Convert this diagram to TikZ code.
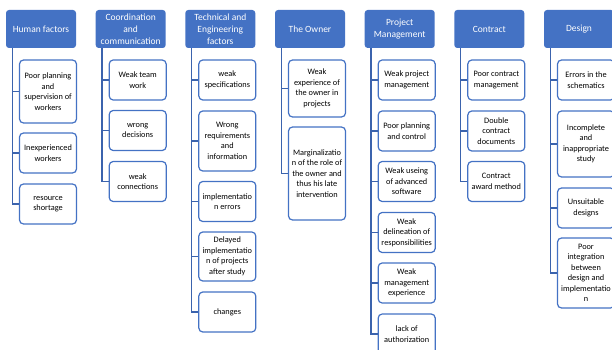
\documentclass[tikz,border=0pt]{standalone}
\usepackage{fontspec}
\setmainfont{Carlito}
\usepackage{xcolor}
\usetikzlibrary{positioning}
\definecolor{office}{HTML}{4472C4}
\definecolor{trunk}{HTML}{3B63AD}

\begin{document}
\begin{tikzpicture}[x=1pt, y=-1pt,
    hd/.style={rectangle, fill=office, rounded corners=3pt, minimum width=70pt, minimum height=38pt, inner sep=1pt, text=white, font=\fontsize{9.5}{12}\selectfont, align=center},
    it/.style={rectangle, draw=office, line width=1.2pt, fill=white, rounded corners=4pt, minimum width=57pt, minimum height=40pt, inner sep=1pt, font=\fontsize{8.3}{10.5}\selectfont, align=center},
    ln/.style={draw=trunk, line width=1.2pt}
]
    \useasboundingbox (0,0) rectangle (612,350);

    % Headers
    \node[hd] (human) at (41,29) {Human factors};
    \node[hd] (coord) at (130.7,29) {Coordination\\and\\communication};
    \node[hd] (tech) at (220.3,29) {Technical and\\Engineering\\factors};
    \node[hd] (owner) at (310,29) {The Owner};
    \node[hd] (pm) at (399.7,29) {Project\\Management};
    \node[hd] (contract) at (489.3,29) {Contract};
    \node[hd] (design) at (579,29) {Design};

    % Human factors
    \node[it, minimum height=63pt] (human1) at (48,91.5) {Poor planning\\and\\supervision of\\workers};
    \node[it] (human2) at (48,153) {Inexperienced\\workers};
    \node[it] (human3) at (48,204) {resource\\shortage};

    % Coordination and communication
    \node[it] (coord1) at (137.7,80) {Weak team\\work};
    \node[it] (coord2) at (137.7,130.5) {wrong\\decisions};
    \node[it] (coord3) at (137.7,181.5) {weak\\connections};

    % Technical and Engineering factors
    \node[it] (tech1) at (227.3,80) {weak\\specifications};
    \node[it, minimum height=60pt] (tech2) at (227.3,141) {Wrong\\requirements\\and\\information};
    \node[it] (tech3) at (227.3,201.5) {implementatio\\n errors};
    \node[it, minimum height=49pt] (tech4) at (227.3,256.5) {Delayed\\implementatio\\n of projects\\after study};
    \node[it] (tech5) at (227.3,312) {changes};

    % The Owner
    \node[it, minimum height=57pt] (owner1) at (317,88.5) {Weak\\experience of\\the owner in\\projects};
    \node[it, minimum height=93pt] (owner2) at (317,173.5) {Marginalizatio\\n of the role of\\the owner and\\thus his late\\intervention};

    % Project Management
    \node[it] (pm1) at (406.7,80) {Weak project\\management};
    \node[it] (pm2) at (406.7,131) {Poor planning\\and control};
    \node[it] (pm3) at (406.7,181.5) {Weak useing\\of advanced\\software};
    \node[it] (pm4) at (406.7,232.5) {Weak\\delineation of\\responsibilities};
    \node[it] (pm5) at (406.7,283) {Weak\\management\\experience};
    \node[it] (pm6) at (406.7,334) {lack of\\authorization};

    % Contract
    \node[it] (contract1) at (496.3,80) {Poor contract\\management};
    \node[it] (contract2) at (496.3,131) {Double\\contract\\documents};
    \node[it] (contract3) at (496.3,181.5) {Contract\\award method};

    % Design
    \node[it] (design1) at (586,80) {Errors in the\\schematics};
    \node[it, minimum height=66pt] (design2) at (586,144) {Incomplete\\and\\inappropriate\\study};
    \node[it] (design3) at (586,208) {Unsuitable\\designs};
    \node[it, minimum height=70pt] (design4) at (586,273) {Poor\\integration\\between\\design and\\implementatio\\n};

    % Branches
    \foreach \h/\n in {human/3, coord/3, tech/5, owner/2, pm/6, contract/3, design/4} {
        \foreach \i in {1,...,\n} {
            \draw[ln] ([xshift=6.5pt]\h.south west) |- (\h\i.west);
        }
    }
\end{tikzpicture}
\end{document}
